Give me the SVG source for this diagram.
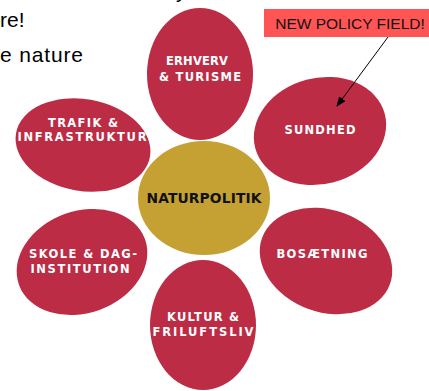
<svg xmlns="http://www.w3.org/2000/svg" width="429" height="391" viewBox="0 0 429 391">
<style>
.petal{fill:#BC2C45}
.core{fill:#C5A033}
.lbl{font-family:"DejaVu Sans",Verdana,sans-serif;font-weight:bold;font-size:11.5px;fill:#fff;text-anchor:middle}
.dark{fill:#111;font-size:13.8px}
.bg{font-family:"Liberation Sans",Arial,sans-serif;font-size:21px;fill:#000}
.note{font-family:"Liberation Sans",Arial,sans-serif;font-size:15.5px;fill:#111;text-anchor:middle}
</style>
<defs>
<marker id="ah" markerWidth="10" markerHeight="8" refX="9" refY="4" orient="auto" markerUnits="userSpaceOnUse">
<path d="M0,0 L10,4 L0,8 Z" fill="#000"/>
</marker>
</defs>
<text class="bg" x="176" y="-2">y</text>
<text class="bg" x="0" y="27">re!</text>
<text class="bg" x="0" y="62" textLength="83">e nature</text>

<g id="erhverv">
<ellipse class="petal" cx="200" cy="74" rx="53" ry="66"/>
<text class="lbl" x="197" y="65" textLength="62">ERHVERV</text>
<text class="lbl" x="200" y="81" textLength="82">&amp; TURISME</text>
</g>
<g id="trafik">
<ellipse class="petal" cx="83" cy="145" rx="68" ry="46" transform="rotate(10 83 145)"/>
<text class="lbl" x="83" y="127" textLength="70">TRAFIK &amp;</text>
<text class="lbl" x="82" y="141" textLength="129">INFRASTRUKTUR</text>
</g>
<g id="sundhed">
<ellipse class="petal" cx="320" cy="131" rx="67" ry="53" transform="rotate(-15 320 131)"/>
<text class="lbl" x="320" y="134" textLength="71">SUNDHED</text>
</g>
<g id="naturpolitik">
<ellipse class="core" cx="204" cy="198" rx="66" ry="57"/>
<text class="lbl dark" x="204" y="203" textLength="115">NATURPOLITIK</text>
</g>
<g id="skole">
<ellipse class="petal" cx="82" cy="262" rx="67" ry="51" transform="rotate(-20 82 262)"/>
<text class="lbl" x="83" y="258" textLength="108">SKOLE &amp; DAG-</text>
<text class="lbl" x="80" y="273" textLength="99">INSTITUTION</text>
</g>
<g id="bosaetning">
<ellipse class="petal" cx="326" cy="261" rx="68" ry="51" transform="rotate(20 326 261)"/>
<text class="lbl" x="322" y="258" textLength="91">BOSÆTNING</text>
</g>
<g id="kultur">
<ellipse class="petal" cx="203" cy="325" rx="53" ry="65"/>
<text class="lbl" x="203" y="321" textLength="72">KULTUR &amp;</text>
<text class="lbl" x="203" y="336" textLength="101">FRILUFTSLIV</text>
</g>
<g id="note">
<rect x="264" y="9" width="165" height="28" fill="#FF5555"/>
<text class="note" x="350" y="29">NEW POLICY FIELD!</text>
</g>
<g id="connectors">
<line x1="388" y1="37" x2="337" y2="106" stroke="#000" stroke-width="1" marker-end="url(#ah)"/>
</g>
</svg>
